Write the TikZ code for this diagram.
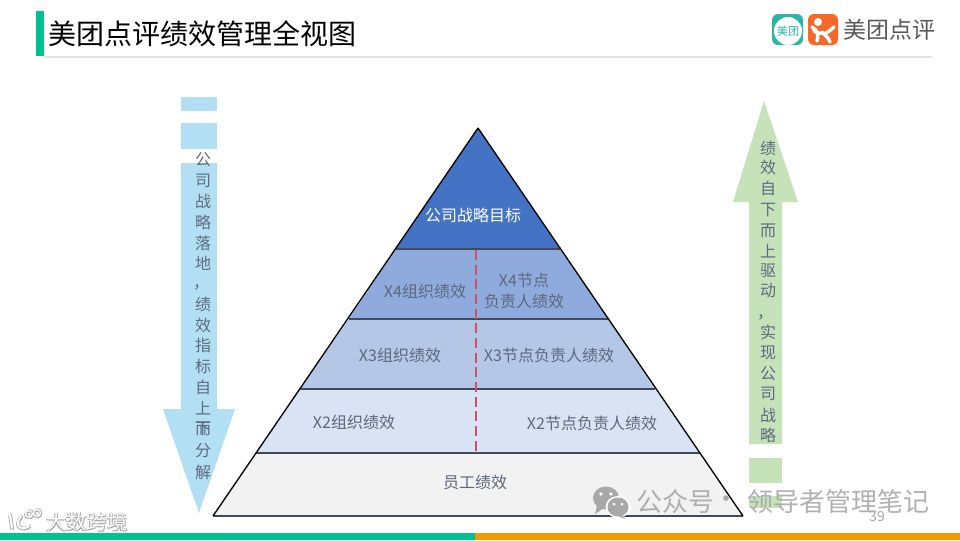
\documentclass[tikz,border=0pt]{standalone}
\usepackage{fontspec}
\setmainfont{Noto Sans CJK SC}
\definecolor{barGreen}{HTML}{00C290}
\definecolor{barOrange}{HTML}{F39A00}
\definecolor{ruleGray}{HTML}{E2E2E2}
\definecolor{arrowBlue}{HTML}{B2DFF3}
\definecolor{arrowGreen}{HTML}{C5E2B8}
\definecolor{lvlA}{HTML}{4472C4}
\definecolor{lvlB}{HTML}{8FAADC}
\definecolor{lvlC}{HTML}{B4C7E7}
\definecolor{lvlD}{HTML}{DAE3F3}
\definecolor{lvlE}{HTML}{F2F2F2}
\definecolor{labelInk}{HTML}{5C687E}
\definecolor{arrowInk}{HTML}{5C6B80}
\definecolor{sepInk}{HTML}{3F4A5E}
\definecolor{dashRed}{HTML}{CF5068}
\definecolor{logoTeal}{HTML}{2FB5A4}
\definecolor{logoOrange}{HTML}{F7692B}
\definecolor{logoInk}{HTML}{595959}
\definecolor{markGray}{HTML}{A8A8A8}
\tikzset{
  x=0.75pt,y=-0.75pt,
  lvl/.style={draw=black,line width=1pt,line join=round},
  sep/.style={draw=sepInk,line width=1.1pt},
  lbl/.style={font=\fontsize{12}{14.4}\selectfont,text=labelInk,inner sep=0pt,align=center},
  vch/.style={font=\fontsize{12}{12}\selectfont,text=arrowInk,inner sep=0pt},
}
\begin{document}
\begin{tikzpicture}
\useasboundingbox (0,0) rectangle (960,540);
% header
\fill[barGreen] (36,11) rectangle (44,56);
\fill[ruleGray] (44,56) rectangle (932,58);
\node[inner sep=0pt,anchor=west,text=black,font=\fontsize{21}{25}\selectfont] (title) at (48,34) {美团点评绩效管理全视图};
% logo
\fill[logoTeal,rounded corners=4.5pt] (772,14) rectangle (803,45);
\fill[white] (788,31) circle [radius=14];
\node[inner sep=0pt,text=logoTeal,font=\fontsize{8.3}{10}\selectfont] (logoa) at (788,31) {美团};
\fill[logoOrange,rounded corners=4.5pt] (808,14) rectangle (838,45);
\fill[white] (818,22) circle [radius=4];
\draw[white,line width=2.6pt,line cap=round] (812,27) .. controls (817,30) and (819,34) .. (817,41);
\draw[white,line width=2.6pt,line cap=round] (834,27) .. controls (826,34) and (824,36) .. (814,31);
\draw[white,line width=2.6pt,line cap=round] (822,32) .. controls (825,35) and (829,38) .. (830,42);
\node[inner sep=0pt,anchor=west,text=logoInk,font=\fontsize{17.2}{20}\selectfont] (logot) at (843,30) {美团点评};
% bottom bar
\fill[barGreen] (0,533) rectangle (475,540);
\fill[barOrange] (475,533) rectangle (960,540);
% left arrow
\fill[arrowBlue] (181,97) rectangle (217,111);
\fill[arrowBlue] (181,123) rectangle (217,149);
\fill[arrowBlue] (181,163) -- (217,163) -- (217,409) -- (235,409) -- (199,513) -- (163,409) -- (181,409) -- cycle;
\foreach \c/\y [count=\i] in {公/160,司/181,战/201,略/222,落/243,地/263,绩/304,效/325,指/345,标/366,自/387,上/408,而/429,下/429,分/451,解/472}
  \node[vch] (lt\i) at (203,\y) {\c};
\node[vch] (ltcomma) at (201,287) {，};
% right arrow
\fill[arrowGreen] (764,101) -- (798,202) -- (782,202) -- (782,444) -- (749,444) -- (749,202) -- (733,202) -- cycle;
\fill[arrowGreen] (749,458) rectangle (782,483);
\fill[arrowGreen] (749,496) rectangle (782,508);
\foreach \c/\y [count=\i] in {绩/148,效/167,自/188,下/210,而/231,上/251,驱/271,动/291,实/332,现/353,公/374,司/394,战/415,略/435}
  \node[vch] (rt\i) at (768,\y) {\c};
\node[vch] (rtcomma) at (765,317) {，};
% pyramid
\coordinate (apex) at (478,128);
\coordinate (la) at (396,249); \coordinate (ra) at (560,249);
\coordinate (lb) at (349,319); \coordinate (rb) at (609,319);
\coordinate (lc) at (300,389); \coordinate (rc) at (655,389);
\coordinate (ld) at (256,453); \coordinate (rd) at (700,453);
\coordinate (le) at (213,516); \coordinate (re) at (743,516);
\fill[lvlE] (ld) -- (rd) -- (re) -- (le) -- cycle;
\fill[lvlD] (lc) -- (rc) -- (rd) -- (ld) -- cycle;
\fill[lvlC] (lb) -- (rb) -- (rc) -- (lc) -- cycle;
\fill[lvlB] (la) -- (ra) -- (rb) -- (lb) -- cycle;
\fill[lvlA] (apex) -- (ra) -- (la) -- cycle;
\draw[sep] (la) -- (ra);
\draw[sep] (lb) -- (rb);
\draw[sep] (lc) -- (rc);
\draw[sep] (ld) -- (rd);
\draw[sep,line width=1.3pt] (le) -- (re);
\draw[lvl] (apex) -- (le);
\draw[lvl] (apex) -- (re);
\coordinate (dashtop) at (476,250);
\coordinate (dashbot) at (476,451);
\draw[dashRed,line width=1.1pt,dash pattern=on 7.5pt off 3.5pt] (dashtop) -- (dashbot);
\node[lbl,text=white] (goal) at (473,215) {公司战略目标};
\node[lbl] (x4a) at (425,291) {X4组织绩效};
\node[lbl,font=\fontsize{12}{15.5}\selectfont] (x4b) at (524,291) {X4节点\\负责人绩效};
\node[lbl] (x3a) at (400,355) {X3组织绩效};
\node[lbl] (x3b) at (549,355) {X3节点负责人绩效};
\node[lbl] (x2a) at (354,422) {X2组织绩效};
\node[lbl] (x2b) at (592,423) {X2节点负责人绩效};
\node[lbl] (emp) at (475,482) {员工绩效};
% watermarks
\fill[markGray] (606,498) ellipse [x radius=13,y radius=11.5];
\fill[markGray] (597,506) -- (595,514) -- (604,508) -- cycle;
\fill[white] (618,507) ellipse [x radius=12.5,y radius=11];
\fill[markGray] (618,507) ellipse [x radius=10.5,y radius=9.5];
\fill[markGray] (622,514) -- (625,519) -- (616,515) -- cycle;
\fill[white] (601,494) circle [radius=1.8] (611,494) circle [radius=1.8] (614,504) circle [radius=1.5] (622,504) circle [radius=1.5];
\node[inner sep=0pt,anchor=west,text=markGray,font=\fontsize{19.5}{24}\selectfont,text opacity=0.9] (wma) at (636,502) {公众号};
\node[inner sep=0pt,text=markGray,font=\fontsize{19.5}{24}\selectfont] (wmb) at (726,502) {·};
\node[inner sep=0pt,anchor=east,text=markGray,font=\fontsize{19.5}{24}\selectfont,text opacity=0.9] (wmc) at (930,502) {领导者管理笔记};
\node[inner sep=0pt,text=markGray,font=\fontsize{10.5}{12}\selectfont] (page) at (877,516) {39};
% bottom-left mark
\foreach \dx/\dy/\col in {1/1/gray!70,-0.7/0.7/gray!70,0.7/-0.7/gray!60,0/0/white}{
  \node[inner sep=0pt,anchor=west,text=\col,font=\fontsize{15.2}{18}\selectfont] at (46+\dx,522+\dy) {大数跨境};
  \draw[\col,line width=1.6pt,line cap=round] (10+\dx,515+\dy) -- (12+\dx,528+\dy);
  \draw[\col,line width=1.6pt,line cap=round] (29+\dx,526+\dy) .. controls (22+\dx,532+\dy) and (13+\dx,526+\dy) .. (21+\dx,516+\dy);
  \draw[\col,line width=1pt] (29+\dx,514+\dy) circle [radius=3.5];
  \draw[\col,line width=1pt] (37+\dx,513+\dy) circle [radius=3.5];
}
\end{tikzpicture}
\end{document}
